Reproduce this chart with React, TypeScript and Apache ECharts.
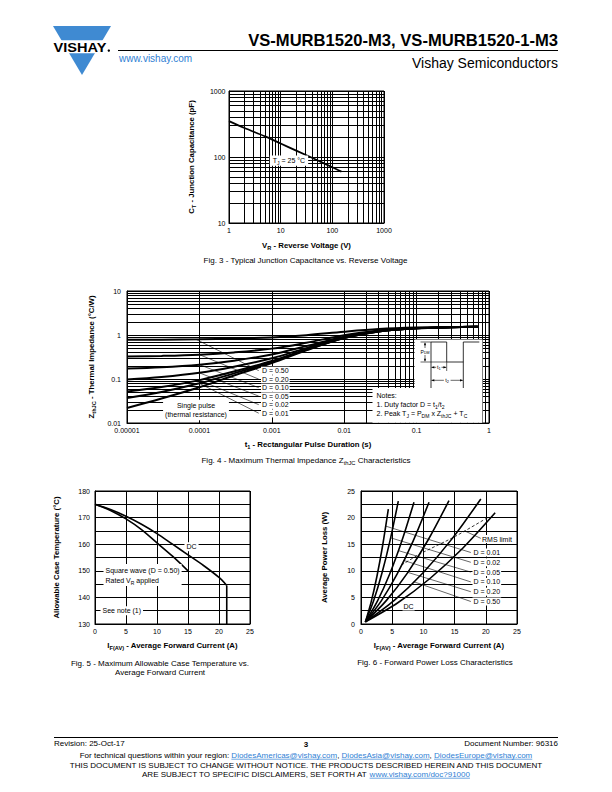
import React, { useEffect, useRef } from 'react';
import * as echarts from 'echarts';

const FONT = '"Liberation Sans", Arial, Helvetica, sans-serif';
const LOGO_BLUE = '#3f8ad2';
const LINK_BLUE = '#2f80d4';

// ---------- Fig. 3 : junction capacitance ----------
const fig3Voltage = [1, 2, 5, 10, 20, 50, 100, 150];
const fig3Capacitance = [350, 275, 205, 160, 125, 90, 70, 60];
const fig3XTicks = ['1', '10', '100', '1000'];
const fig3YTicks = ['10', '100', '1000'];

// ---------- Fig. 4 : thermal impedance ----------
const fig4Time = [1e-5, 3e-5, 1e-4, 3e-4, 1e-3, 3e-3, 1e-2, 3e-2, 0.1, 0.3, 0.7];
const fig4D050 = [0.776, 0.783, 0.798, 0.825, 0.88, 0.99, 1.19, 1.365, 1.475, 1.515, 1.53];
const fig4D020 = [0.324, 0.335, 0.358, 0.402, 0.49, 0.666, 0.986, 1.266, 1.442, 1.51, 1.53];
const fig4D010 = [0.173, 0.185, 0.212, 0.261, 0.36, 0.558, 0.918, 1.233, 1.431, 1.5, 1.53];
const fig4D005 = [0.0974, 0.1107, 0.138, 0.19, 0.295, 0.504, 0.884, 1.217, 1.426, 1.5, 1.53];
const fig4D002 = [0.0522, 0.0659, 0.0943, 0.148, 0.256, 0.472, 0.864, 1.207, 1.422, 1.5, 1.53];
const fig4D001 = [0.0371, 0.0509, 0.0797, 0.1341, 0.243, 0.461, 0.857, 1.203, 1.421, 1.5, 1.53];
const fig4Single = [0.022, 0.036, 0.065, 0.12, 0.23, 0.45, 0.85, 1.2, 1.42, 1.5, 1.53];
const fig4XTicks = ['0.00001', '0.0001', '0.001', '0.01', '0.1', '1'];
const fig4YTicks = ['0.01', '0.1', '1', '10'];
const fig4Labels = ['D = 0.50', 'D = 0.20', 'D = 0.10', 'D = 0.05', 'D = 0.02', 'D = 0.01'];
const fig4LeaderFrom = [[9e-5, 0.795], [1e-4, 0.358], [1e-4, 0.212], [1e-4, 0.138], [1e-4, 0.0943], [1e-4, 0.0797]];
const fig4LeaderTo = [[6.6e-4, 0.155], [6.6e-4, 0.0993], [6.6e-4, 0.0635], [6.6e-4, 0.0408], [6.6e-4, 0.0261], [6.6e-4, 0.0167]];

// ---------- Fig. 5 : case temperature ----------
const fig5CurrentDC = [0, 2.5, 5, 7.5, 10, 12.5, 15, 17.5, 20, 21.25];
const fig5TempDC = [175, 173, 170.5, 167.5, 164, 160, 156, 152, 147.5, 144.5];
const fig5DropCurrent = [21.25, 21.25];
const fig5DropTemp = [144.5, 130];
const fig5CurrentSq = [0, 2.5, 5, 7.5, 10, 12.5, 15];
const fig5TempSq = [175, 172.7, 169.5, 165.5, 160.5, 155.5, 150];

// ---------- Fig. 6 : power loss ----------
const fig6D001X = [0.7, 1.62, 2.54, 3.46, 4.38];
const fig6D001Y = [0.4, 4.11, 8.88, 14.71, 21.6];
const fig6D002X = [0.7, 2.02, 3.34, 4.66, 5.98];
const fig6D002Y = [0.4, 4.37, 9.48, 15.72, 23.1];
const fig6D005X = [0.7, 2.65, 4.6, 6.54, 8.49];
const fig6D005Y = [0.4, 4.34, 9.4, 15.59, 22.9];
const fig6D010X = [0.7, 3.25, 5.8, 8.35, 10.9];
const fig6D010Y = [0.4, 4.34, 9.4, 15.59, 22.9];
const fig6D020X = [0.7, 4.05, 7.4, 10.75, 14.1];
const fig6D020Y = [0.4, 4.39, 9.52, 15.79, 23.2];
const fig6D050X = [0.7, 5.33, 9.95, 14.58, 19.2];
const fig6D050Y = [0.4, 4.44, 9.64, 16.0, 23.5];
const fig6DCX = [0.7, 5.9, 11.1, 16.3, 21.5];
const fig6DCY = [0.4, 3.99, 8.6, 14.24, 20.9];
const fig6RmsX = [6.5, 9.5, 15, 20.3];
const fig6RmsY = [11.1, 13.2, 16.4, 20.0];
const fig6Labels = ['D = 0.01', 'D = 0.02', 'D = 0.05', 'D = 0.10', 'D = 0.20', 'D = 0.50'];
const fig6LeaderFrom = [[3.95, 18.4], [4.75, 16.2], [5.98, 13.8], [6.85, 11.95], [7.5, 9.7], [8.45, 7.95], [16.6, 17.5]];
const fig6LeaderTo = [[17.6, 13.44], [17.6, 11.6], [17.6, 9.76], [17.6, 7.91], [17.6, 6.07], [17.6, 4.23], [19.2, 16.1]];

// ---------- helpers ----------
const zip = (xs: number[], ys: number[]) => xs.map((x, i) => [x, ys[i]]);

function logMinors(e0: number, e1: number) {
  const out: number[] = [];
  for (let e = e0; e < e1; e++) {
    for (let m = 2; m <= 9; m++) out.push(Number((m * Math.pow(10, e)).toPrecision(3)));
  }
  return out;
}

function rich(size: number, weight: string = 'normal', lh?: number) {
  const L = lh || Math.round(size * 1.45 * 10) / 10;
  return {
    n: { fontSize: size, fontWeight: weight, fontFamily: FONT, fill: '#000', color: '#000', lineHeight: L },
    s: { fontSize: size * 0.72, fontWeight: weight, fontFamily: FONT, fill: '#000', color: '#000', verticalAlign: 'bottom' },
  };
}

function txt(x: number, y: number, text: string, o: any = {}) {
  const align = o.align || 'left';
  const va = o.va || 'middle';
  const style: any = {
    text,
    fill: o.color || '#000',
    fontSize: o.size || 7,
    fontWeight: o.weight || 'normal',
    fontFamily: FONT,
    align,
    verticalAlign: va,
    textAlign: align,
    textVerticalAlign: va,
  };
  if (o.bg) {
    style.backgroundColor = o.bg;
    style.padding = o.pad || [1, 2];
  }
  if (o.rich) style.rich = o.rich;
  if (o.lineHeight) style.lineHeight = o.lineHeight;
  const el: any = { type: 'text', x, y, z: o.z || 100, silent: true, style };
  if (o.rot) el.rotation = o.rot;
  if (o.scaleX) el.scaleX = o.scaleX;
  return el;
}

function line(x1: number, y1: number, x2: number, y2: number, w = 1, z = 101) {
  return { type: 'line', z, silent: true, shape: { x1, y1, x2, y2 }, style: { stroke: '#000', lineWidth: w } };
}
function poly(points: number[][], w = 1, z = 101) {
  return { type: 'polyline', z, silent: true, shape: { points }, style: { stroke: '#000', lineWidth: w, fill: null } };
}
function tri(points: number[][], z = 102) {
  return { type: 'polygon', z, silent: true, shape: { points }, style: { fill: '#000' } };
}
function rect(x: number, y: number, w: number, h: number, z = 99) {
  return { type: 'rect', z, silent: true, shape: { x, y, width: w, height: h }, style: { fill: '#fff' } };
}

let mctx: CanvasRenderingContext2D | null = null;
function measure(t: string, size: number, weight = 'normal') {
  if (!mctx && typeof document !== 'undefined') mctx = document.createElement('canvas').getContext('2d');
  if (!mctx) return t.length * size * 0.5;
  mctx.font = `${weight} ${size}px ${FONT}`;
  return mctx.measureText(t).width;
}

function inlineLine(cx: number, y: number, parts: { t: string; link?: boolean }[], size = 8) {
  const widths = parts.map(p => measure(p.t, size));
  const total = widths.reduce((a, b) => a + b, 0);
  let x = cx - total / 2;
  const els: any[] = [];
  parts.forEach((p, i) => {
    els.push(txt(x, y, p.t, { size, color: p.link ? LINK_BLUE : '#000' }));
    if (p.link) {
      els.push({ type: 'line', z: 100, silent: true, shape: { x1: x, y1: y + 4.2, x2: x + widths[i], y2: y + 4.2 }, style: { stroke: LINK_BLUE, lineWidth: 0.7 } });
    }
    x += widths[i];
  });
  return els;
}

function xAxisCfg(gridIndex: number, extra: any, labelExtra: any = {}) {
  return {
    gridIndex,
    axisLine: { show: true, onZero: false, lineStyle: { color: '#000', width: 1 } },
    axisTick: { show: false },
    splitLine: { show: true, lineStyle: { color: '#000', width: 1 } },
    axisLabel: { color: '#000', fontSize: 7, fontFamily: FONT, margin: 4, showMinLabel: true, showMaxLabel: true, hideOverlap: false, ...labelExtra },
    ...extra,
  };
}

function curve(ax: number, data: number[][], width = 1.8, extra: any = {}) {
  return {
    type: 'line', xAxisIndex: ax, yAxisIndex: ax, data, showSymbol: false, symbol: 'none',
    smooth: 0.3, lineStyle: { color: '#000', width }, silent: true, z: 3,
    emphasis: { disabled: true }, ...extra,
  };
}

function markSeries(ax: number, data: number[][], lines: any[], width = 1, z = 1) {
  return {
    type: 'line', xAxisIndex: ax, yAxisIndex: ax, data, symbol: 'none', showSymbol: false,
    lineStyle: { opacity: 0 }, silent: true, z, emphasis: { disabled: true },
    markLine: {
      silent: true, symbol: ['none', 'none'], label: { show: false },
      lineStyle: { color: '#000', width, type: 'solid' }, emphasis: { disabled: true },
      data: lines,
    },
  };
}

function buildOption() {
  const fig3Data = zip(fig3Voltage, fig3Capacitance);
  const fig4Curves = [fig4D050, fig4D020, fig4D010, fig4D005, fig4D002, fig4D001, fig4Single].map(v => zip(fig4Time, v));
  const fig6Curves = [
    zip(fig6D001X, fig6D001Y), zip(fig6D002X, fig6D002Y), zip(fig6D005X, fig6D005Y), zip(fig6D010X, fig6D010Y),
    zip(fig6D020X, fig6D020Y), zip(fig6D050X, fig6D050Y), zip(fig6DCX, fig6DCY),
  ];

  const fig3Grid = logMinors(0, 3).map(v => ({ xAxis: v })).concat(logMinors(1, 3).map(v => ({ yAxis: v })) as any);
  const fig4Grid = logMinors(-5, 0).map(v => ({ xAxis: v })).concat(logMinors(-2, 1).map(v => ({ yAxis: v })) as any);
  const fig4Leaders = fig4LeaderFrom.map((p, i) => [{ coord: p }, { coord: fig4LeaderTo[i] }]);
  const fig6Leaders = fig6LeaderFrom.map((p, i) => [{ coord: p }, { coord: fig6LeaderTo[i] }]);

  const g: any[] = [];
  // ---------- header ----------
  g.push({ type: 'polygon', z: 100, silent: true, shape: { points: [[53, 26], [111, 26], [82, 75]] }, style: { fill: LOGO_BLUE } });
  g.push(rect(47, 40.3, 70, 13, 101));
  g.push(txt(80, 47.3, 'VISHAY', { size: 13, weight: 'bold', align: 'center', scaleX: 1.12, z: 102 }));
  g.push({ type: 'circle', z: 102, silent: true, shape: { cx: 108.8, cy: 50.6, r: 1.2 }, style: { fill: '#000' } });
  g.push(txt(558, 40.5, 'VS-MURB1520-M3, VS-MURB1520-1-M3', { size: 16.6, weight: 'bold', align: 'right' }));
  g.push(line(118, 50.5, 558, 50.5, 1, 100));
  g.push(txt(119, 58.5, 'www.vishay.com', { size: 10, color: LINK_BLUE }));
  g.push(txt(558, 63, 'Vishay Semiconductors', { size: 14, align: 'right' }));

  // ---------- Fig. 3 ----------
  g.push(txt(191.5, 157, '{n|C}{s|T}{n| - Junction Capacitance (pF)}', { rich: rich(7.8, 'bold'), align: 'center', rot: Math.PI / 2 }));
  g.push(txt(306.5, 245, '{n|V}{s|R}{n| - Reverse Voltage (V)}', { rich: rich(7.8, 'bold'), align: 'center' }));
  g.push(txt(305.5, 260, 'Fig. 3 - Typical Junction Capacitance vs. Reverse Voltage', { size: 8, align: 'center' }));
  g.push(txt(289, 160.7, '{n|T}{s|J}{n| = 25 °C}', { rich: rich(7), align: 'center', bg: '#fff', pad: [0, 3] }));

  // ---------- Fig. 4 ----------
  g.push(txt(91.5, 357, '{n|Z}{s|thJC}{n| - Thermal Impedance (°C/W)}', { rich: rich(7.8, 'bold'), align: 'center', rot: Math.PI / 2 }));
  g.push(txt(308, 444.5, '{n|t}{s|1}{n| - Rectangular Pulse Duration (s)}', { rich: rich(7.8, 'bold'), align: 'center' }));
  g.push(txt(306, 460, '{n|Fig. 4 - Maximum Thermal Impedance Z}{s|thJC}{n| Characteristics}', { rich: rich(8), align: 'center' }));
  fig4Labels.forEach((l, i) => g.push(txt(261, 370.7 + 8.55 * i, l, { bg: '#fff', pad: [0.5, 1] })));
  g.push(txt(196, 410, 'Single pulse\n(thermal resistance)', { align: 'center', bg: '#fff', pad: [1, 2], lineHeight: 9.2 }));
  // notes + pulse diagram
  g.push(rect(372.5, 388, 110, 34.8));
  g.push(rect(414.5, 339.5, 68, 49));
  g.push(txt(376.5, 395.5, 'Notes:', {}));
  g.push(txt(376.5, 404.2, '{n|1. Duty factor D = t}{s|1}{n|/t}{s|2}', { rich: rich(7) }));
  g.push(txt(376.5, 413, '{n|2. Peak T}{s|J}{n| = P}{s|DM}{n| x Z}{s|thJC}{n| + T}{s|C}', { rich: rich(7) }));
  g.push(poly([[431, 388], [431, 342], [446.7, 342], [446.7, 362], [463.3, 362]], 0.8));
  g.push(poly([[463.3, 388], [463.3, 342], [479.3, 342]], 0.8));
  g.push(line(446.7, 362, 446.7, 371, 0.6));
  g.push(line(420.5, 342, 431, 342, 0.6));
  g.push(line(420.5, 362, 446.7, 362, 0.6));
  g.push(line(425, 343, 425, 361, 0.6));
  g.push(tri([[425, 342.3], [423.9, 345.2], [426.1, 345.2]]));
  g.push(tri([[425, 361.7], [423.9, 358.8], [426.1, 358.8]]));
  g.push(txt(425, 351.5, '{n|P}{s|DM}', { rich: rich(5, 'normal', 6), align: 'center', bg: '#fff', pad: [0.5, 0.5], z: 103 }));
  g.push(line(431.5, 367.3, 446.2, 367.3, 0.6));
  g.push(tri([[431.3, 367.3], [434.3, 366.2], [434.3, 368.4]]));
  g.push(tri([[446.4, 367.3], [443.4, 366.2], [443.4, 368.4]]));
  g.push(txt(438.8, 367.3, '{n|t}{s|1}', { rich: rich(5.5, 'normal', 6.5), align: 'center', bg: '#fff', pad: [0, 0.8], z: 103 }));
  g.push(line(431.5, 380.3, 462.8, 380.3, 0.6));
  g.push(tri([[431.3, 380.3], [434.3, 379.2], [434.3, 381.4]]));
  g.push(tri([[463, 380.3], [460, 379.2], [460, 381.4]]));
  g.push(txt(447.2, 380.3, '{n|t}{s|2}', { rich: rich(5.5, 'normal', 6.5), align: 'center', bg: '#fff', pad: [0, 1.5], z: 103 }));

  // ---------- Fig. 5 ----------
  g.push(txt(56, 557.5, 'Allowable Case Temperature (°C)', { size: 7.8, weight: 'bold', align: 'center', rot: Math.PI / 2 }));
  g.push(txt(172.5, 645.5, '{n|I}{s|F(AV)}{n| - Average Forward Current (A)}', { rich: rich(7.8, 'bold'), align: 'center' }));
  g.push(txt(160, 663, 'Fig. 5 - Maximum Allowable Case Temperature vs.', { size: 8, align: 'center' }));
  g.push(txt(160, 672.5, 'Average Forward Current', { size: 8, align: 'center' }));
  g.push(txt(191.5, 546.7, 'DC', { align: 'center', bg: '#fff', pad: [1, 2] }));
  g.push(txt(103.5, 575, '{n|Square wave (D = 0.50)}\n{n|Rated V}{s|R}{n| applied}', { rich: rich(7, 'normal', 10), bg: '#fff', pad: [1, 2] }));
  g.push(txt(100.5, 610.7, 'See note (1)', { bg: '#fff', pad: [1, 2] }));

  // ---------- Fig. 6 ----------
  g.push(txt(324, 557.5, 'Average Power Loss (W)', { size: 7.8, weight: 'bold', align: 'center', rot: Math.PI / 2 }));
  g.push(txt(439, 645.5, '{n|I}{s|F(AV)}{n| - Average Forward Current (A)}', { rich: rich(7.8, 'bold'), align: 'center' }));
  g.push(txt(435, 662.5, 'Fig. 6 - Forward Power Loss Characteristics', { size: 8, align: 'center' }));
  fig6Labels.forEach((l, i) => g.push(txt(472.5, 552.5 + 9.8 * i, l, { bg: '#fff', pad: [0.5, 1] })));
  g.push(txt(481, 539, 'RMS limit', { bg: '#fff', pad: [0.5, 1] }));
  g.push(txt(402.5, 606.5, 'DC', { bg: '#fff', pad: [0.5, 1] }));

  // ---------- footer ----------
  g.push(line(54, 737.5, 558, 737.5, 1, 100));
  g.push(txt(54, 743.5, 'Revision: 25-Oct-17', { size: 8 }));
  g.push(txt(306, 744, '3', { size: 8, weight: 'bold', align: 'center' }));
  g.push(txt(558, 743.5, 'Document Number: 96316', { size: 8, align: 'right' }));
  inlineLine(306, 755, [
    { t: 'For technical questions within your region: ' },
    { t: 'DiodesAmericas@vishay.com', link: true },
    { t: ', ' },
    { t: 'DiodesAsia@vishay.com', link: true },
    { t: ', ' },
    { t: 'DiodesEurope@vishay.com', link: true },
  ]).forEach(e => g.push(e));
  g.push(txt(306, 765.5, 'THIS DOCUMENT IS SUBJECT TO CHANGE WITHOUT NOTICE. THE PRODUCTS DESCRIBED HEREIN AND THIS DOCUMENT', { size: 8, align: 'center' }));
  inlineLine(306, 774, [
    { t: 'ARE SUBJECT TO SPECIFIC DISCLAIMERS, SET FORTH AT ' },
    { t: 'www.vishay.com/doc?91000', link: true },
  ]).forEach(e => g.push(e));

  const lg = (v: number) => Math.round(Math.log10(v));

  return {
    animation: false,
    backgroundColor: '#fff',
    textStyle: { fontFamily: FONT },
    grid: [
      { left: 229, top: 91, width: 155, height: 132, show: true, borderColor: '#000', borderWidth: 1, backgroundColor: 'transparent' },
      { left: 127, top: 291, width: 362, height: 132, show: true, borderColor: '#000', borderWidth: 1, backgroundColor: 'transparent' },
      { left: 95, top: 491, width: 155, height: 133, show: true, borderColor: '#000', borderWidth: 1, backgroundColor: 'transparent' },
      { left: 361, top: 491, width: 156, height: 133, show: true, borderColor: '#000', borderWidth: 1, backgroundColor: 'transparent' },
    ],
    xAxis: [
      xAxisCfg(0, { type: 'log', logBase: 10, min: 1, max: 1000 }, { margin: 4, formatter: (v: number) => fig3XTicks[lg(v)] }),
      xAxisCfg(1, { type: 'log', logBase: 10, min: 0.00001, max: 1 }, { margin: 4, formatter: (v: number) => fig4XTicks[lg(v) + 5] }),
      xAxisCfg(2, { type: 'value', min: 0, max: 25, interval: 5 }, { margin: 4 }),
      xAxisCfg(3, { type: 'value', min: 0, max: 25, interval: 5 }, { margin: 4 }),
    ],
    yAxis: [
      xAxisCfg(0, { type: 'log', logBase: 10, min: 10, max: 1000 }, { margin: 3.5, formatter: (v: number) => fig3YTicks[lg(v) - 1] }),
      xAxisCfg(1, { type: 'log', logBase: 10, min: 0.01, max: 10 }, { margin: 6, formatter: (v: number) => fig4YTicks[lg(v) + 2] }),
      xAxisCfg(2, {
        type: 'value', min: 130, max: 180, interval: 10,
        minorTick: { show: false, splitNumber: 2 },
        minorSplitLine: { show: true, lineStyle: { color: '#000', width: 1 } },
      }, { margin: 5 }),
      xAxisCfg(3, {
        type: 'value', min: 0, max: 25, interval: 5,
        minorTick: { show: false, splitNumber: 2 },
        minorSplitLine: { show: true, lineStyle: { color: '#000', width: 1 } },
      }, { margin: 6 }),
    ],
    series: [
      markSeries(0, fig3Data, fig3Grid, 1, 1),
      curve(0, fig3Data, 1.8),
      markSeries(1, fig4Curves[0], fig4Grid, 1, 1),
      markSeries(1, fig4Curves[0], fig4Leaders, 0.6, 2),
      ...fig4Curves.map(d => curve(1, d, 2, { smooth: 0.35 })),
      curve(2, zip(fig5CurrentDC, fig5TempDC), 1.6),
      curve(2, zip(fig5DropCurrent, fig5DropTemp), 1.6, { smooth: false }),
      curve(2, zip(fig5CurrentSq, fig5TempSq), 1.6),
      markSeries(3, fig6Curves[6], fig6Leaders, 0.6, 2),
      ...fig6Curves.map(d => curve(3, d, 1.6)),
      curve(3, zip(fig6RmsX, fig6RmsY), 0.8, { lineStyle: { color: '#000', width: 0.8, type: [3, 2] }, smooth: 0.2 }),
    ],
    graphic: { elements: g },
  };
}

export default function App() {
  const ref = useRef<HTMLDivElement>(null);
  useEffect(() => {
    if (!ref.current) return;
    const chart = echarts.init(ref.current, null, { renderer: 'svg' });
    chart.setOption(buildOption() as any);
    return () => chart.dispose();
  }, []);
  return (
    <div
      ref={ref}
      style={{ position: 'absolute', left: 0, top: 0, width: 612, height: 792, background: '#fff' }}
    />
  );
}
